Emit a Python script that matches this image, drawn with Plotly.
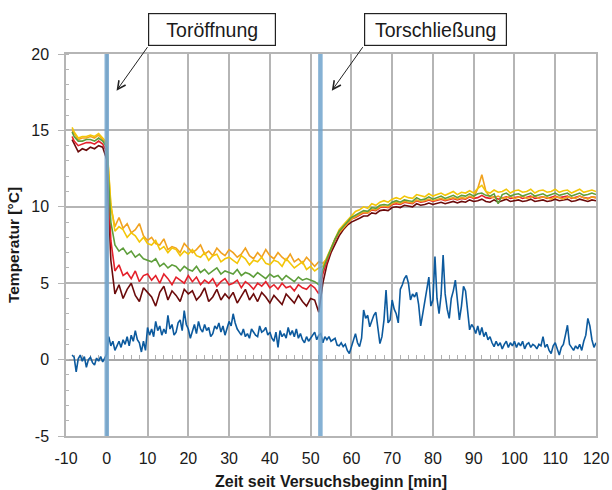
import numpy as np
import plotly.graph_objects as go

# Time axis of the temperature loggers [min] (one reading per minute, first at -8.5)
t_min = [-8.5] + list(range(-8, 121))

# Indoor temperatures at five measuring points [°C]
temp_yellow = [
    15.2, 14.9, 14.5, 14.6, 14.6, 14.7, 14.6, 14.8, 14.5, 14.2,
    10.2, 8.4, 8.7, 8.5, 8.0, 8.3, 8.1, 7.7, 8.0, 7.6,
    7.5, 7.8, 7.2, 7.4, 7.0, 7.3, 7.2, 6.8, 7.1, 6.9,
    7.2, 6.8, 6.7, 7.0, 6.5, 6.8, 6.9, 6.4, 6.6, 6.7,
    6.5, 6.3, 6.8, 6.6, 6.2, 6.5, 6.4, 6.7, 6.3, 6.2,
    6.5, 6.4, 6.1, 6.6, 6.3, 6.0, 6.2, 6.4, 5.9, 6.1,
    5.8, 6.0, 6.1, 6.7, 7.4, 8.0, 8.5, 8.8, 9.1, 9.4,
    9.7, 9.8, 10.0, 9.9, 10.2, 10.1, 10.3, 10.4, 10.3, 10.5,
    10.6, 10.5, 10.7, 10.6, 10.55, 10.8, 10.7, 10.65, 10.85, 10.7,
    10.8, 10.9, 10.75, 10.85, 11.0, 10.8, 10.95, 10.9, 11.05, 10.9,
    11.2, 11.4, 11.0, 10.9, 11.1, 10.95, 11.0, 11.15, 10.9, 11.05,
    11.1, 10.95, 11.0, 11.15, 10.9, 11.05, 11.1, 10.95, 11.0, 11.15,
    10.95, 11.05, 11.1, 10.9, 11.0, 11.15, 10.95, 11.05, 11.1, 11.0,
]
temp_orange = [
    15.0, 14.8, 14.4, 14.5, 14.5, 14.6, 14.5, 14.7, 14.4, 14.1,
    10.0, 8.7, 9.3, 8.6, 8.9, 8.3, 8.5, 8.9, 8.1, 7.8,
    8.0, 7.6, 7.5, 7.9, 7.2, 7.4, 7.3, 7.0, 7.6, 7.3,
    7.0, 7.2, 7.5, 6.9, 7.1, 6.8, 7.3, 7.0, 6.8, 7.2,
    7.0, 6.7, 6.9, 7.3, 6.8, 6.6, 7.0, 6.7, 7.2, 6.8,
    6.6, 7.0, 6.7, 6.5, 6.9, 6.4, 6.6, 6.3, 6.7, 6.4,
    6.1, 6.4, 6.3, 6.6, 7.3, 7.9, 8.3, 8.6, 8.95, 9.2,
    9.35, 9.5, 9.65, 9.6, 9.85, 9.8, 10.0, 10.05, 10.0, 10.2,
    10.3, 10.2, 10.35, 10.3, 10.25, 10.45, 10.35, 10.4, 10.5, 10.4,
    10.5, 10.55, 10.45, 10.55, 10.6, 10.5, 10.6, 10.55, 10.7, 10.6,
    11.2, 12.1, 11.0, 10.65, 10.6, 10.7, 10.55, 10.6, 10.7, 10.55,
    10.6, 10.7, 10.55, 10.6, 10.7, 10.55, 10.65, 10.6, 10.5, 10.65,
    10.6, 10.5, 10.65, 10.6, 10.55, 10.7, 10.6, 10.5, 10.65, 10.6,
]
temp_green = [
    14.9, 14.6, 14.3, 14.3, 14.4, 14.4, 14.3, 14.5, 14.3, 13.9,
    9.0, 7.5, 7.1, 7.3, 6.9, 7.1, 6.7, 6.9, 6.6, 6.5,
    6.4, 6.6, 6.1, 6.3, 6.0, 6.2, 6.1, 5.8, 6.1, 5.9,
    5.8, 6.1, 5.7, 5.9, 5.6, 5.8, 6.0, 5.6, 5.8, 5.7,
    5.6, 5.9, 5.5, 5.7, 5.6, 5.4, 5.7, 5.5, 5.3, 5.6,
    5.4, 5.5, 5.2, 5.5, 5.3, 5.1, 5.4, 5.2, 5.3, 5.2,
    5.1, 4.9, 5.9, 6.6, 7.3, 7.9, 8.4, 8.7, 9.0, 9.3,
    9.45, 9.6, 9.75, 9.7, 9.95, 9.9, 10.1, 10.15, 10.1, 10.3,
    10.4, 10.3, 10.45, 10.4, 10.35, 10.6, 10.45, 10.5, 10.65, 10.5,
    10.6, 10.7, 10.55, 10.65, 10.75, 10.6, 10.75, 10.7, 10.85, 10.7,
    10.85, 10.9, 10.75, 10.7, 10.85, 10.2, 10.8, 10.9, 10.7, 10.8,
    10.85, 10.7, 10.8, 10.9, 10.7, 10.8, 10.85, 10.7, 10.8, 10.9,
    10.75, 10.85, 10.9, 10.7, 10.8, 10.9, 10.75, 10.8, 10.9, 10.8,
]
temp_red = [
    14.6, 14.3, 14.0, 14.1, 14.2, 14.2, 14.1, 14.3, 14.1, 13.6,
    7.8, 5.8, 6.2, 5.5, 5.7, 5.3, 5.8, 5.1, 5.5, 5.6,
    5.2, 5.5, 5.0, 5.6, 5.3, 4.9, 5.4, 5.2, 5.0, 5.5,
    5.1, 5.4, 4.9, 5.2, 5.0, 5.3, 4.8, 5.1, 5.3, 4.9,
    5.0, 5.2, 4.7, 5.1, 4.9, 4.6, 5.0, 4.8, 5.1, 4.7,
    4.9, 4.6, 5.0, 4.7, 4.8, 4.5, 4.9, 4.7, 4.6, 4.9,
    4.7, 4.3, 5.6, 6.4, 7.2, 7.8, 8.3, 8.6, 8.9, 9.2,
    9.3, 9.45, 9.6, 9.6, 9.8, 9.75, 9.95, 10.0, 9.95, 10.15,
    10.2, 10.15, 10.3, 10.25, 10.2, 10.4, 10.3, 10.35, 10.45, 10.35,
    10.45, 10.5, 10.4, 10.5, 10.55, 10.45, 10.55, 10.5, 10.65, 10.55,
    10.6, 10.75, 10.6, 10.55, 10.65, 10.5, 10.6, 10.65, 10.55, 10.6,
    10.65, 10.55, 10.6, 10.7, 10.55, 10.6, 10.65, 10.55, 10.6, 10.7,
    10.6, 10.65, 10.7, 10.55, 10.6, 10.7, 10.6, 10.55, 10.65, 10.6,
]
temp_maroon = [
    14.4, 14.1, 13.6, 13.8, 13.7, 13.9, 13.8, 14.0, 13.9, 13.1,
    6.5, 4.3, 4.9, 4.0, 4.6, 5.0, 4.2, 3.8, 4.7, 4.4,
    4.1, 3.5, 4.4, 4.8, 3.9, 4.5, 4.2, 3.8, 4.6, 4.3,
    4.5, 3.9, 4.2, 4.7, 3.8, 4.1, 4.6, 3.9, 4.3, 4.0,
    4.4, 3.7, 4.2, 4.6, 3.9, 4.3, 3.8, 4.4, 4.1, 3.7,
    4.2, 3.9, 3.6, 4.3, 4.0, 3.7, 4.2, 3.8, 3.5, 4.0,
    3.9, 3.1, 5.0, 6.2, 7.0, 7.6, 8.1, 8.5, 8.8, 9.0,
    9.1, 9.25, 9.4, 9.4, 9.6, 9.55, 9.75, 9.8, 9.75, 9.95,
    10.0, 9.95, 10.1, 10.05, 10.0, 10.2, 10.1, 10.15, 10.25, 10.15,
    10.25, 10.3, 10.2, 10.3, 10.35, 10.25, 10.35, 10.3, 10.45, 10.35,
    10.4, 10.5, 10.35, 10.3, 10.45, 10.3, 10.4, 10.5, 10.35, 10.4,
    10.45, 10.35, 10.4, 10.5, 10.35, 10.4, 10.45, 10.35, 10.4, 10.5,
    10.4, 10.45, 10.5, 10.35, 10.4, 10.5, 10.4, 10.35, 10.45, 10.4,
]

# Outdoor temperature [°C], one reading every half minute from -8.5
t_outdoor = np.arange(-8.5, 120.01, 0.5)
temp_outdoor = [
    0.3, 0.15, -0.8, 0.05, 0.3, -0.1, 0.2, -0.5, 0.0, 0.15, -0.2, -0.35, 0.1, -0.1, 0.2, -0.15, 0.1, 0.35,
    1.5, 0.9, 1.2, 0.6, 0.9, 1.2, 0.8, 1.3, 1.0, 1.5, 0.9, 1.6, 1.2, 1.9, 1.3, 1.1, 0.5, 1.2, 0.6, 2.1,
    1.6, 2.0, 1.5, 2.5, 1.9, 2.2, 1.6, 2.0, 1.7, 2.9, 2.0, 2.3, 1.6, 1.8, 2.4, 2.6, 1.9, 3.2, 2.3, 2.0,
    1.4, 1.8, 2.3, 1.7, 2.5, 2.0, 1.8, 2.3, 1.9, 2.1, 1.5, 1.7, 2.2, 2.0, 2.4, 1.8, 2.2, 1.6, 2.0, 2.5,
    2.2, 3.0, 2.4, 2.0, 1.8, 1.6, 2.0, 1.5, 1.7, 1.4, 2.0, 1.8, 1.6, 1.5, 2.2, 1.8, 1.9, 2.1, 1.6, 1.8,
    1.4, 1.2, 1.8, 0.8, 1.9, 1.5, 1.7, 1.4, 2.1, 1.6, 1.9, 1.5, 2.0, 1.4, 1.7, 1.3, 1.1, 1.5, 1.2, 1.4,
    1.6, 1.8, 1.3, 1.6, 1.7, 1.1, 1.5, 1.3, 1.5, 1.2, 1.3, 1.4, 0.95, 0.9, 1.1, 0.85, 1.0, 0.6, 0.4, 0.85,
    1.3, 1.7, 1.1, 0.85, 1.4, 3.25, 2.7, 2.9, 2.15, 2.5, 2.9, 3.1, 2.2, 1.05, 1.5, 2.6, 4.55, 2.4, 2.6, 3.9,
    3.3, 3.0, 2.4, 4.6, 4.9, 5.3, 5.5, 5.0, 3.9, 4.3, 4.1, 4.4, 3.6, 2.2, 3.0, 3.9, 4.6, 5.4, 3.5, 3.9,
    6.75, 4.0, 3.0, 4.2, 6.85, 4.3, 3.3, 2.7, 4.0, 4.5, 5.2, 4.1, 2.6, 3.5, 4.8, 4.5, 3.0, 1.95, 2.3, 2.1,
    1.7, 2.2, 1.6, 2.1, 1.5, 1.8, 1.3, 1.5, 1.1, 0.85, 1.2, 0.9, 1.1, 0.7, 1.0, 1.2, 0.8, 1.1, 0.9, 1.2,
    0.8, 1.1, 0.9, 1.2, 0.7, 1.0, 1.1, 0.8, 1.0, 0.9, 0.7, 1.0, 0.9, 1.5, 0.8, 1.0, 0.6, 0.4, 0.9, 1.1,
    0.7, 0.3, 0.8, 1.0, 1.6, 2.25, 1.0, 0.8, 0.6, 0.9, 0.7, 1.0, 0.6, 1.2, 1.6, 2.7, 2.2, 1.3, 0.8, 1.1,
]

# Door events [min]
event_times = [0.0, 52.4]
event_labels = ["Toröffnung", "Torschließung"]

# Axis ticks
x_tickvals = list(range(-10, 121, 10))
x_ticktext = [str(v) for v in x_tickvals]
y_tickvals = [-5, 0, 5, 10, 15, 20]
y_ticktext = [str(v) for v in y_tickvals]

FONT = "Liberation Sans, Arial, sans-serif"
GRID = "#b5b5b5"
TEXT = "#1a1a1a"

series = [
    (t_outdoor, temp_outdoor, "#0c5a9e"),
    (t_min, temp_maroon, "#6b0b0b"),
    (t_min, temp_red, "#e4212b"),
    (t_min, temp_orange, "#f1a21f"),
    (t_min, temp_yellow, "#f3c608"),
    (t_min, temp_green, "#5e9e3b"),
]

fig = go.Figure()
# empty trace keeping the base subplot (grid, frame) alive
fig.add_trace(go.Scatter(x=[], y=[], showlegend=False, hoverinfo="skip"))
# curves live on the overlay axis that runs through y = 0, so they sit above it
for tx, ty, col in series:
    fig.add_trace(go.Scatter(x=tx, y=ty, mode="lines", xaxis="x2",
                             line=dict(color=col, width=1.6),
                             showlegend=False, hoverinfo="skip"))

# door opening / closing markers
for et in event_times:
    fig.add_shape(type="line", xref="x", yref="y", x0=et, x1=et, y0=-5, y1=20,
                  line=dict(color="rgba(112,163,205,0.85)", width=4.5), layer="above")

# labelled boxes with pointers
box_x = [0.276, 0.6966]
box_w = [124, 139]
tip_x = [2.4, 55.2]
for lab, bx, bw, tx in zip(event_labels, box_x, box_w, tip_x):
    fig.add_annotation(xref="paper", yref="paper", x=bx, y=1.0644, text=lab,
                       showarrow=False, font=dict(family=FONT, size=19.5, color=TEXT),
                       bordercolor="#222222", borderwidth=1.2, borderpad=1,
                       bgcolor="white", width=bw, height=29,
                       xanchor="center", yanchor="middle")
    fig.add_annotation(xref="x", yref="y", x=tx, y=17.6, text="",
                       showarrow=True, ax=32, ay=-45, arrowhead=5, arrowsize=1.6,
                       arrowwidth=1, arrowcolor="#222222")

fig.update_layout(
    width=612, height=490,
    margin=dict(l=66, r=16, t=54, b=54),
    paper_bgcolor="white", plot_bgcolor="white",
    font=dict(family=FONT, color=TEXT),
    xaxis=dict(range=[-10, 120], tickvals=x_tickvals, ticktext=x_ticktext,
               showgrid=True, gridcolor=GRID, automargin=False,
               gridwidth=1.5, showline=True, mirror=True, linecolor=GRID, linewidth=1.5,
               ticks="", zeroline=False, tickfont=dict(size=16, color=TEXT),
               ticklabelstandoff=7,
               title=dict(text="<b>Zeit seit Versuchsbeginn [min]</b>",
                          font=dict(size=16, color=TEXT), standoff=13)),
    xaxis2=dict(range=[-10, 120], overlaying="x", anchor="free", position=0.2,
                showgrid=False, zeroline=False, showline=True, linecolor="#a8a8a8",
                linewidth=1.5, ticks="inside", ticklen=4, tick0=0, dtick=2,
                tickcolor="#b0b0b0", tickwidth=1, showticklabels=False,
                layer="below traces", automargin=False),
    yaxis=dict(range=[-5, 20], tickvals=y_tickvals, ticktext=y_ticktext,
               showgrid=True, gridcolor=GRID, automargin=False,
               gridwidth=1.5, showline=True, mirror=True, linecolor=GRID, linewidth=1.5,
               ticks="outside", ticklen=6, tickcolor=GRID, tickwidth=1.2, zeroline=False,
               minor=dict(dtick=1, ticks="inside", ticklen=3, tickcolor=GRID, showgrid=False),
               tickfont=dict(size=16, color=TEXT), ticklabelstandoff=6,
               title=dict(text="<b>Temperatur [°C]</b>", font=dict(size=15.5, color=TEXT),
                          standoff=8)),
)

fig.write_html("out.html")
